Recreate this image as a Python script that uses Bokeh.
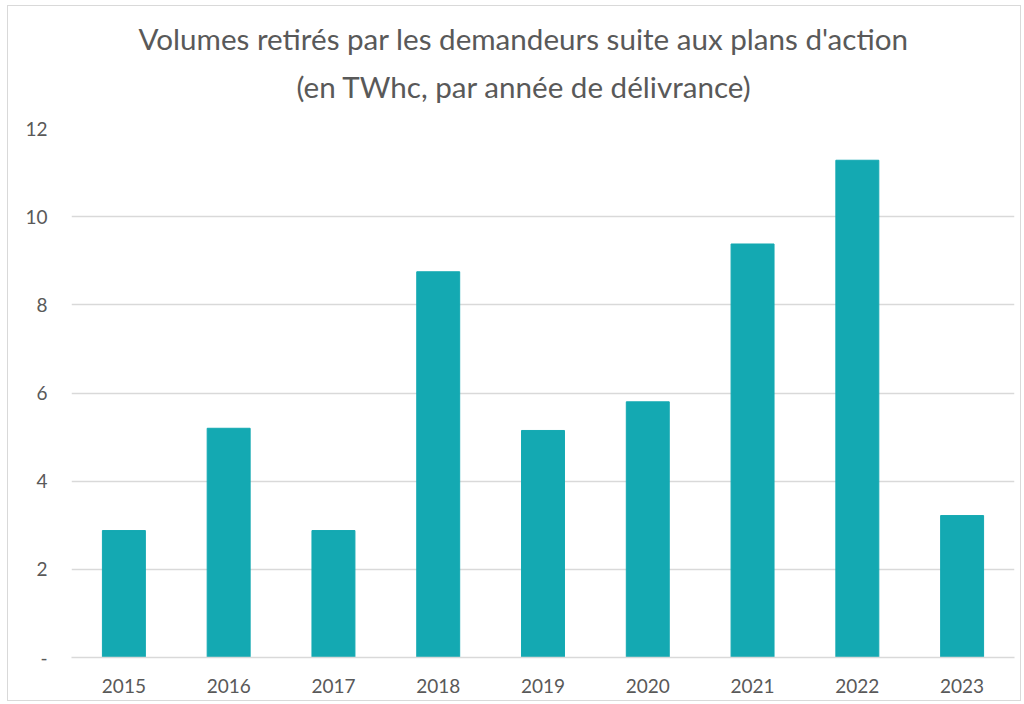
from bokeh.plotting import figure
from bokeh.models import FactorRange, Range1d, FixedTicker, Title
from bokeh.embed import file_html
from bokeh.resources import INLINE

years = ["2015", "2016", "2017", "2018", "2019", "2020", "2021", "2022", "2023"]
volumes = [2.88, 5.2, 2.88, 8.75, 5.15, 5.8, 9.38, 11.28, 3.22]
y_ticks = [0, 2, 4, 6, 8, 10, 12]
y_tick_labels = {0: "-", 2: "2", 4: "4", 6: "6", 8: "8", 10: "10", 12: "12"}
title_lines = ["Volumes retirés par les demandeurs suite aux plans d'action",
               "(en TWhc, par année de délivrance)"]

p = figure(x_range=FactorRange(*years), y_range=Range1d(0, 12),
           width=1014, height=696, output_backend="svg", toolbar_location=None,
           min_border_left=63, min_border_right=8, min_border_top=122, min_border_bottom=45,
           title=None)

p.vbar(x=years, top=volumes, width=0.41, color="#14A9B2")

# subtitle first (closest to the plot), then main title above it
title_offsets = [225, 67]
title_standoffs = [45, -23]
for txt, off, so in zip(reversed(title_lines), title_offsets, title_standoffs):
    t = Title(text=txt, align="left", vertical_align="top", text_font="Lato",
              text_font_size="29.6px", text_font_style="normal", text_color="#595959",
              standoff=so, offset=off)
    p.add_layout(t, "above")

p.outline_line_color = None
p.xgrid.grid_line_color = None
p.ygrid.grid_line_color = "#d9d9d9"
p.ygrid.grid_line_width = 1.5

p.yaxis.ticker = FixedTicker(ticks=y_ticks)
p.yaxis.major_label_overrides = y_tick_labels
p.yaxis.axis_line_color = None
p.yaxis.major_tick_line_color = None
p.yaxis.minor_tick_line_color = None
p.yaxis.major_label_standoff = 18

p.xaxis.axis_line_color = "#d9d9d9"
p.xaxis.axis_line_width = 1.5
p.xaxis.major_tick_line_color = None
p.xaxis.minor_tick_line_color = None
p.xaxis.major_label_standoff = 15

for ax in (p.xaxis, p.yaxis):
    ax.major_label_text_font = "Lato"
    ax.major_label_text_font_size = "19px"
    ax.major_label_text_color = "#595959"

p.styles = {"border": "1px solid #d9d9d9", "margin-left": "7px", "margin-top": "5px"}

open("out.html", "w").write(file_html(p, INLINE))
